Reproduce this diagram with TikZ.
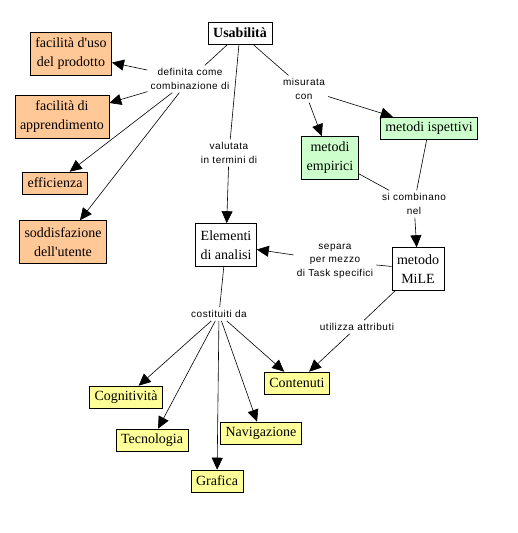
\documentclass[tikz,border=0pt]{standalone}
\usepackage{fontspec}
\setmainfont{Liberation Serif}
\newfontfamily\linkfont[LetterSpace=5]{Liberation Sans}
\usepackage{xcolor}
\usepackage{tikz}
\usetikzlibrary{positioning,arrows.meta}

\definecolor{peach}{RGB}{255,200,150}
\definecolor{mint}{RGB}{204,255,204}
\definecolor{lemon}{RGB}{255,255,153}

\begin{document}
\begin{tikzpicture}[
  x=1pt, y=-1pt,
  box/.style    = {draw, line width=0.6pt, align=center, fill=white,
                   inner xsep=5pt, inner ysep=1pt, minimum height=22pt,
                   font=\fontsize{14}{19}\selectfont},
  twoline/.style = {minimum height=43pt},
  quality/.style = {box, fill=peach},
  method/.style  = {box, fill=mint},
  part/.style    = {box, fill=lemon},
  link/.style    = {align=center, inner sep=3pt,
                    font=\linkfont\fontsize{10}{13.5}\selectfont},
  ln/.style      = {line width=0.6pt},
  ar/.style      = {ln, -{Triangle[length=12pt,width=11pt]}}
]
\useasboundingbox (0,0) rectangle (518,533);

% concetti
\node[box, font=\fontsize{14}{19}\selectfont\bfseries] (usab) at (240,33) {Usabilità};

\node[quality, twoline] (uso)   at (71,54)   {facilità d\textquotesingle uso\\del prodotto};
\node[quality, twoline] (appr)  at (62,117)  {facilità di\\apprendimento};
\node[quality]          (eff)   at (55,183)  {efficienza};
\node[quality, twoline] (sodd)  at (63,242)  {soddisfazione\\dell\textquotesingle utente};

\node[box, twoline]     (elem)  at (226,245) {Elementi\\di analisi};
\node[method, twoline]  (emp)   at (330,158) {metodi\\empirici};
\node[method]           (isp)   at (429,128) {metodi ispettivi};
\node[box, twoline]     (mile)  at (418,269) {metodo\\MiLE};

\node[part] (cont) at (297,383) {Contenuti};
\node[part] (cogn) at (126,397) {Cognitività};
\node[part] (tecn) at (152,440) {Tecnologia};
\node[part] (navi) at (261,433) {Navigazione};
\node[part] (graf) at (217,481) {Grafica};

% frasi di collegamento
\node[link] (def)  at (190,79)  {definita come\\combinazione di};
\node[link] (mis)  at (304,89)  {misurata\\con};
\node[link] (val)  at (229,153) {valutata\\in termini di};
\node[link] (comb) at (414,204) {si combinano\\nel};
\node[link] (sep)  at (335,261) {separa\\per mezzo\\di Task specifici};
\node[link] (cost) at (219,314) {costituiti da};
\node[link] (util) at (357,327) {utilizza attributi};

\draw[ln] (usab) -- (def);
\draw[ar] (def) -- (uso);
\draw[ar] (def) -- (appr);
\draw[ar] (def) -- (eff);
\draw[ar] (def) -- (sodd);

\draw[ln] (usab) -- (val);
\draw[ar] (val) -- (elem);

\draw[ln] (usab) -- (mis);
\draw[ar] (mis) -- (emp);
\draw[ar] (mis) -- (isp);

\draw[ln] (emp) -- (comb);
\draw[ln] (isp) -- (comb);
\draw[ar] (comb) -- (mile);

\draw[ln] (mile) -- (sep);
\draw[ar] (sep) -- (elem);

\draw[ln] (mile) -- (util);
\draw[ar] (util) -- (cont);

\draw[ln] (elem) -- (cost);
\draw[ar] (cost) -- (cogn);
\draw[ar] (cost) -- (tecn);
\draw[ar] (cost) -- (graf);
\draw[ar] (cost) -- (navi);
\draw[ar] (cost) -- (cont);

\end{tikzpicture}
\end{document}
